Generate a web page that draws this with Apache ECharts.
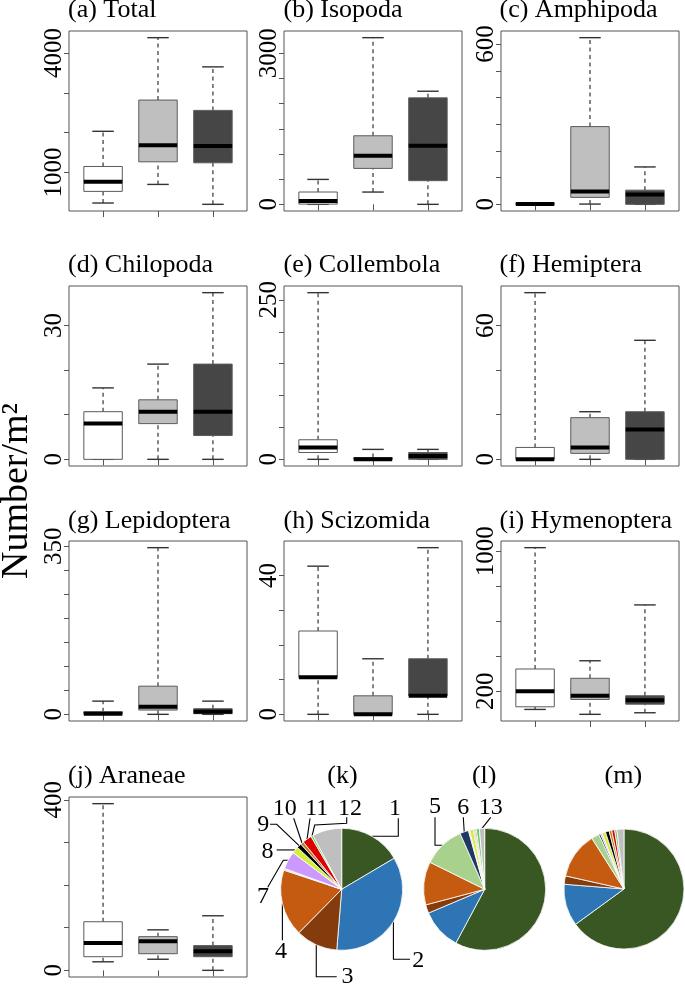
<!DOCTYPE html>
<html><head><meta charset="utf-8">
<script src="https://cdn.jsdelivr.net/npm/echarts@6/dist/echarts.min.js"></script>
<style>html,body{margin:0;padding:0;background:#fff}#c{width:685px;height:988px}</style>
</head><body><div id="c"></div>
<script>
// ---- DATA: five-number summaries [min, Q1, median, Q3, max] for groups 1,2,3 ----
const groups = [1, 2, 3];
const totalBox      = [[233,525,767,1150,2033],[700,1267,1683,2817,4383],[200,1242,1667,2558,3650]];
const isopodaBox    = [[0,5,65,245,495],[244,714,966,1362,3311],[0,470,1164,2115,2247]];
const amphipodaBox  = [[0,0,1,5,5],[1,26,48,291,624],[0,0,37,53,140]];
const chilopodaBox  = [[0,0,8,10.67,16],[0,8,10.67,13.33,21.33],[0,5.33,10.67,21.33,37.33]];
const collembolaBox = [[0,10.7,18.7,30.7,261.3],[0,0,0,2.7,15.6],[0,0,5.3,10.7,15.6]];
const hemipteraBox  = [[0,0,0,5.33,74.67],[0,2.67,5.33,18.67,21.33],[0,0,13.33,21.33,53.33]];
const lepidopteraBox= [[0,0,1.4,5.6,27.5],[0,8.9,15.9,58.6,347],[0,1.4,5.6,11.7,27.5]];
const scizomidaBox  = [[0,10.67,10.67,24,42.67],[0,0,0,5.33,16],[0,5.33,5.33,16,48]];
const hymenopteraBox= [[96,111,200,327,1020],[68,153,174,274,374],[77,126,149,174,693]];
const araneaeBox    = [[20,32,64,114,391],[26,39,68,79,95],[0,32,45,58,128]];

const totalTicks = [1000,2000,3000,4000],          totalLabels = [1000,4000];
const isopodaTicks = [0,500,1000,1500,2000,2500,3000], isopodaLabels = [0,3000];
const amphipodaTicks = [0,100,200,300,400,500,600], amphipodaLabels = [0,600];
const chilopodaTicks = [0,10,20,30],               chilopodaLabels = [0,30];
const collembolaTicks = [0,50,100,150,200,250],    collembolaLabels = [0,250];
const hemipteraTicks = [0,20,40,60],               hemipteraLabels = [0,60];
const lepidopteraTicks = [0,50,100,150,200,250,300,350], lepidopteraLabels = [0,350];
const scizomidaTicks = [0,10,20,30,40],            scizomidaLabels = [0,40];
const hymenopteraTicks = [200,400,600,800,1000],   hymenopteraLabels = [200,1000];
const araneaeTicks = [0,100,200,300,400],          araneaeLabels = [0,400];

const panelTitles = ['(a) Total','(b) Isopoda','(c) Amphipoda','(d) Chilopoda','(e) Collembola','(f) Hemiptera','(g) Lepidoptera','(h) Scizomida','(i) Hymenoptera','(j) Araneae'];

// pie shares (%) of taxa 1..13
const taxa = ['1','2','3','4','5','6','7','8','9','10','11','12','13'];
const kShares = [16.5,34.8,11.1,17.7,0.33,0.14,4.7,1.8,1.25,0.83,2.5,0.56,7.8];
const lShares = [57.8,10.8,2.25,11.4,11.1,2.3,0.3,1.0,0.2,0.3,0.3,0.8,1.4];
const mShares = [65.0,11.3,2.25,12.5,2.1,0.5,0.4,1.0,1.0,0.7,0.8,0.6,1.9];
const pieTitles = ['(k)','(l)','(m)'];

// ---- STYLE / LAYOUT ----
const boxFills = ['#ffffff','#bfbfbf','#464646'];
const pieColors = ['#385723','#2e75b6','#843c0c','#c55a11','#a9d18e','#203864','#cc99ff','#d4ee3c','#000000','#bf7b21','#e00000','#66cc66','#bfbfbf'];
const SERIF = '"Liberation Serif","Times New Roman",serif';
const colLeft = [69, 284, 501], rowTop = [31, 286, 541, 797], PW = 178, PH = 180;
const titleX = [68, 283.5, 499.5], titleY = [10.4, 265.4, 521.2, 776.2];
const frameColor = '#555';

const boxData = [totalBox,isopodaBox,amphipodaBox,chilopodaBox,collembolaBox,hemipteraBox,lepidopteraBox,scizomidaBox,hymenopteraBox,araneaeBox];
const tickVals = [totalTicks,isopodaTicks,amphipodaTicks,chilopodaTicks,collembolaTicks,hemipteraTicks,lepidopteraTicks,scizomidaTicks,hymenopteraTicks,araneaeTicks];
const labelVals = [totalLabels,isopodaLabels,amphipodaLabels,chilopodaLabels,collembolaLabels,hemipteraLabels,lepidopteraLabels,scizomidaLabels,hymenopteraLabels,araneaeLabels];

const grids = [], xAxes = [], yAxes = [], series = [], graphics = [];

function renderBox(params, api) {
  const x = api.value(0);
  const pMin = api.coord([x, api.value(1)]);
  const pQ1 = api.coord([x, api.value(2)]);
  const pMed = api.coord([x, api.value(3)]);
  const pQ3 = api.coord([x, api.value(4)]);
  const pMax = api.coord([x, api.value(5)]);
  const bw = api.size([0.7, 0])[0];
  const cw = bw * 0.56;
  const cx = pMed[0];
  const fill = boxFills[params.dataIndex];
  const dash = {stroke:'#222', lineWidth:1.1, lineDash:[4,3.5]};
  const cap = {stroke:'#333', lineWidth:1.4};
  return {type:'group', children:[
    {type:'line', shape:{x1:cx,y1:pQ3[1],x2:cx,y2:pMax[1]}, style:dash},
    {type:'line', shape:{x1:cx,y1:pMin[1],x2:cx,y2:pQ1[1]}, style:dash},
    {type:'line', shape:{x1:cx-cw/2,y1:pMax[1],x2:cx+cw/2,y2:pMax[1]}, style:cap},
    {type:'line', shape:{x1:cx-cw/2,y1:pMin[1],x2:cx+cw/2,y2:pMin[1]}, style:cap},
    {type:'rect', shape:{x:cx-bw/2, y:pQ3[1], width:bw, height:Math.max(pQ1[1]-pQ3[1],0.5)}, style:{fill:fill, stroke:'#5a5a5a', lineWidth:1}},
    {type:'line', shape:{x1:cx-bw/2,y1:pMed[1],x2:cx+bw/2,y2:pMed[1]}, style:{stroke:'#000', lineWidth:4}}
  ]};
}

boxData.forEach((bd, i) => {
  const r = Math.floor(i / 3), c = i % 3;
  let lo = Infinity, hi = -Infinity;
  bd.forEach(b => { lo = Math.min(lo, b[0]); hi = Math.max(hi, b[4]); });
  const ext = (hi - lo) * 0.04;
  grids.push({left: colLeft[c], top: rowTop[r], width: PW, height: PH, show: true,
    borderColor: frameColor, borderWidth: 1, backgroundColor: 'transparent', outerBoundsMode: 'none', containLabel: false});
  xAxes.push({type:'value', gridIndex:i, min:0.38, max:3.62,
    axisLine:{show:false}, splitLine:{show:false}, axisLabel:{show:false},
    axisTick:{show:true, length:6, customValues: groups, lineStyle:{color:frameColor, width:1}}});
  yAxes.push({type:'value', gridIndex:i, min: lo - ext, max: hi + ext,
    axisLine:{show:false}, splitLine:{show:false},
    axisTick:{show:true, length:5, customValues: tickVals[i], lineStyle:{color:frameColor, width:1}},
    axisLabel:{show:true, customValues: labelVals[i], formatter: v => String(v), rotate:90, margin:2,
      fontFamily:SERIF, fontSize:25, color:'#000'}});
  series.push({type:'custom', xAxisIndex:i, yAxisIndex:i, silent:true, clip:false,
    renderItem: renderBox, encode:{x:0, y:[1,2,3,4,5]},
    data: bd.map((b, g) => [groups[g]].concat(b))});
  graphics.push({type:'text', x: titleX[c], y: titleY[r], style:{text: panelTitles[i], font:'26px ' + SERIF, fill:'#000', textAlign:'left', textVerticalAlign:'middle'}});
});

// ---- PIES ----
const pieCenters = [[341.7,889.3],[484.7,889.3],[624,889]];
const pieRadius = [61, 61, 60];
const pieTitleX = [342.5, 484.2, 623.3];
// label layout (relative to pie centre): pos = label centre, route(S) = leader points (S = slice edge point)
const kLabelLayout = {
  1: {pos:[53.3,-80.3], route:S=>[S,[56.6,S[1]],[56.6,-71]]},
  2: {pos:[76.6,71.7], route:S=>[S,[S[0],70],[68.3,70]]},
  3: {pos:[5.8,87.7], route:S=>[S,[S[0],87.4],[-5,87.4]]},
  4: {pos:[-60.7,62.7], route:S=>[S,[S[0],51]]},
  7: {pos:[-78.7,7.7], route:S=>[S,[-58.4,S[1]],[-74,-2]]},
  8: {pos:[-74.2,-37.6], route:S=>[S,[-65,S[1]]]},
  9: {pos:[-78.4,-64.3], route:S=>[S,[-65,-65],[-71.7,-65]]},
  10:{pos:[-57,-80.3], route:S=>[S,[-48,-71]]},
  11:{pos:[-25,-80.3], route:S=>[S,[-31.7,-71]]},
  12:{pos:[8.3,-80.3], route:S=>[S,[-27,-64.3],[5,-66],[5,-72]]}
};
const lLabelLayout = {
  5: {pos:[-49.7,-82.3], route:S=>[S,[-49.7,-44],[-49.7,-72]]},
  6: {pos:[-21.4,-82], route:S=>[S,[-21.4,-72]]},
  13:{pos:[6,-82], route:S=>[S,[6,-72]]}
};
const pieLayouts = [kLabelLayout, lLabelLayout, {}];
const pieShares = [kShares, lShares, mShares];

pieShares.forEach((shares, p) => {
  const ctr = pieCenters[p], lay = pieLayouts[p];
  series.push({type:'pie', center: ctr, radius: pieRadius[p], startAngle: 90, clockwise: true,
    silent: true, avoidLabelOverlap: false, minShowLabelAngle: 0, animation: false,
    itemStyle:{borderColor:'#fff', borderWidth:0.8},
    label:{show:false, fontFamily:SERIF, fontSize:24, color:'#000', formatter: q => taxa[q.dataIndex]},
    labelLine:{show:true, length:5, length2:5, lineStyle:{color:'#000', width:1.1}},
    data: shares.map((v, k) => ({value: v, name: taxa[k], itemStyle:{color: pieColors[k]},
      label:{show: !!lay[k+1]}, labelLine:{show: !!lay[k+1]}})),
    labelLayout: function (prm) {
      const spec = lay[prm.dataIndex + 1];
      if (!spec) return {};
      const S0 = prm.labelLinePoints ? prm.labelLinePoints[0] : [ctr[0], ctr[1]];
      const Srel = [S0[0] - ctr[0], S0[1] - ctr[1]];
      const pts = spec.route(Srel).map(pt => [pt[0] + ctr[0], pt[1] + ctr[1]]);
      return {x: ctr[0] + spec.pos[0], y: ctr[1] + spec.pos[1], align:'center', verticalAlign:'middle', labelLinePoints: pts};
    }
  });
  graphics.push({type:'text', x: pieTitleX[p], y: titleY[3], style:{text: pieTitles[p], font:'26px ' + SERIF, fill:'#000', textAlign:'center', textVerticalAlign:'middle'}});
});

graphics.push({type:'text', x: 17, y: 491, rotation: Math.PI/2, style:{text:'Number/m\u00B2', font:'38px ' + SERIF, fill:'#000', textAlign:'center', textVerticalAlign:'middle'}});

const chart = echarts.init(document.getElementById('c'), null, {renderer:'canvas'});
chart.setOption({animation:false, backgroundColor:'#fff', grid: grids, xAxis: xAxes, yAxis: yAxes, series: series, graphic: graphics});
</script></body></html>
